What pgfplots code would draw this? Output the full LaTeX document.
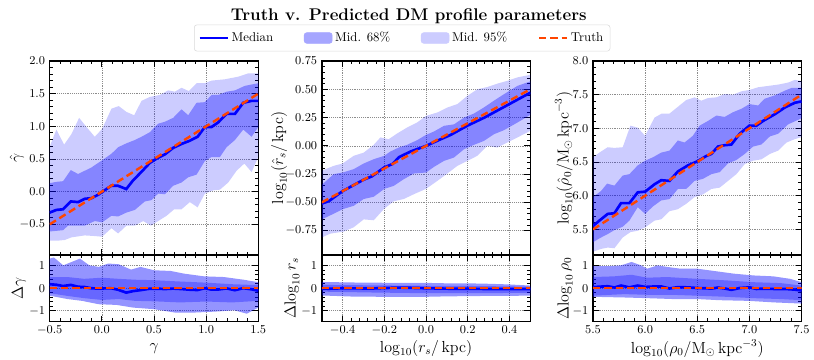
\documentclass[border=0pt]{standalone}
\usepackage{pgfplots}
\pgfplotsset{compat=1.18}
\definecolor{truthc}{HTML}{FF4500}
\definecolor{medc}{HTML}{0000FF}

\pgfplotsset{
  panel/.style={
    scale only axis, width=156.4pt,
    axis line style={line width=1.1pt},
    tick pos=both, xticklabel pos=lower, yticklabel pos=left,
    tick align=inside,
    major tick length=4.5pt, minor tick length=2.3pt,
    every tick/.style={black, line width=0.6pt},
    minor x tick num=4, minor y tick num=4,
    grid=major, major grid style={densely dotted, black!45, line width=0.5pt},
    tick label style={font=\fontsize{9.5}{11}\selectfont},
    label style={font=\fontsize{12}{14}\selectfont},
    clip=true,
  },
  mainp/.style={panel, height=145.5pt, xticklabels={}},
  resp/.style={panel, height=49.9pt, ymin=-1.48, ymax=1.48, ytick={-1,0,1},
    xlabel style={at={(rel axis cs:0.5,-0.4)}, anchor=center}},
  ylab/.style={ylabel style={at={(rel axis cs:#1,0.5)}, anchor=center}},
  onedig/.style={/pgf/number format/.cd, fixed, fixed zerofill, precision=1},
  twodig/.style={/pgf/number format/.cd, fixed, fixed zerofill, precision=2},
  b95/.style={fill=medc, fill opacity=0.2, draw=none, forget plot},
  b68/.style={fill=medc, fill opacity=0.35, draw=none, forget plot},
  r95/.style={fill=medc, fill opacity=0.42, draw=none, forget plot},
  r68/.style={fill=medc, fill opacity=0.3, draw=none, forget plot},
  medl/.style={medc, line width=2pt, forget plot},
  trul/.style={truthc, line width=1.8pt, dash pattern=on 5.5pt off 3pt, forget plot},
}

\begin{document}
\begin{tikzpicture}
\useasboundingbox (0,0) rectangle (610.5pt,-270pt);

\node[font=\fontsize{12.7}{15}\selectfont\bfseries] at (306.5pt,-12pt)
  {Truth v. Predicted DM profile parameters};

% ===== gamma ================================================================
\begin{axis}[mainp, at={(37.3pt,-45.75pt)}, anchor=north west,
  xmin=-0.5, xmax=1.5, ymin=-0.97, ymax=2.0,
  xtick={-0.5,0,0.5,1,1.5},
  ytick={-0.5,0,0.5,1,1.5,2},
  yticklabel style={onedig},
  ylabel={$\hat{\gamma}$}, ylab=-0.157,
  legend columns=4,
  legend style={at={(1.69,1.1186)}, anchor=center, draw=black!15,
    rounded corners=2pt, fill=white, font=\fontsize{9.6}{11.5}\selectfont,
    inner xsep=3pt, inner ysep=3pt,
    nodes={inner ysep=2.5pt},
    /tikz/every even column/.append style={column sep=21pt}},
]
\addlegendimage{legend image code/.code={\draw[medc, line width=2pt] (0pt,0pt) -- (21pt,0pt);}}
\addlegendentry{Median}
\addlegendimage{legend image code/.code={\fill[medc!35] (0pt,-4pt) rectangle (21pt,4pt);}}
\addlegendentry{Mid. 68\%}
\addlegendimage{legend image code/.code={\fill[medc!20] (0pt,-4pt) rectangle (21pt,4pt);}}
\addlegendentry{Mid. 95\%}
\addlegendimage{legend image code/.code={\draw[truthc, line width=1.8pt, dash pattern=on 5.5pt off 3pt] (0pt,0pt) -- (21pt,0pt);}}
\addlegendentry{Truth}

\addplot[b95] coordinates {
  (-0.5,0.69) (-0.436,0.95) (-0.362,0.72) (-0.292,0.88) (-0.218,1.13) (-0.148,0.99)
  (-0.068,0.84) (0.002,0.96) (0.092,1.27) (0.162,1.31) (0.236,1.22) (0.31,1.17)
  (0.38,1.39) (0.46,1.45) (0.556,1.48) (0.636,1.55) (0.70,1.53) (0.764,1.59)
  (0.834,1.54) (0.908,1.66) (0.988,1.66) (1.052,1.70) (1.18,1.72) (1.308,1.76)
  (1.404,1.81) (1.5,1.81)
  (1.5,0.53) (1.436,0.30) (1.366,0.43) (1.292,0.32) (1.212,0.14) (1.132,0.03)
  (1.068,0.02) (0.988,-0.03) (0.918,-0.24) (0.844,-0.16) (0.764,-0.27) (0.694,-0.27)
  (0.62,-0.37) (0.54,-0.45) (0.47,-0.52) (0.396,-0.45) (0.316,-0.52) (0.236,-0.52)
  (0.156,-0.64) (0.092,-0.56) (0.002,-0.69) (-0.068,-0.68) (-0.164,-0.67) (-0.292,-0.70)
  (-0.356,-0.74) (-0.42,-0.75) (-0.5,-0.75)
} -- cycle;
\addplot[b68] coordinates {
  (-0.5,0.13) (-0.436,0.15) (-0.372,0.16) (-0.298,0.33) (-0.228,0.27) (-0.164,0.32)
  (-0.1,0.37) (0.002,0.48) (0.092,0.58) (0.156,0.68) (0.236,0.74) (0.316,0.79)
  (0.38,0.84) (0.46,0.91) (0.54,1.04) (0.604,1.07) (0.684,1.13) (0.764,1.26)
  (0.828,1.17) (0.908,1.36) (0.988,1.37) (1.052,1.48) (1.116,1.48) (1.196,1.53)
  (1.276,1.55) (1.372,1.62) (1.5,1.66)
  (1.5,0.99) (1.436,0.84) (1.356,0.95) (1.276,0.79) (1.196,0.68) (1.132,0.53)
  (1.052,0.53) (0.988,0.47) (0.908,0.26) (0.828,0.22) (0.764,0.14) (0.684,0.09)
  (0.604,-0.04) (0.54,-0.03) (0.476,-0.13) (0.412,-0.15) (0.316,-0.28) (0.236,-0.32)
  (0.156,-0.38) (0.092,-0.37) (0.002,-0.47) (-0.068,-0.45) (-0.164,-0.52) (-0.228,-0.52)
  (-0.324,-0.52) (-0.372,-0.59) (-0.5,-0.61)
} -- cycle;
\addplot[medl] coordinates {
  (-0.5,-0.32) (-0.436,-0.28) (-0.372,-0.27) (-0.298,-0.15) (-0.228,-0.16) (-0.164,-0.11)
  (-0.1,-0.10) (-0.038,-0.05) (0.026,0.02) (0.09,0.09) (0.154,0.09) (0.234,0.04)
  (0.298,0.17) (0.378,0.30) (0.46,0.44) (0.54,0.52) (0.604,0.57) (0.684,0.67)
  (0.764,0.73) (0.844,0.78) (0.918,0.84) (0.988,0.99) (1.052,0.99) (1.116,1.06)
  (1.196,1.19) (1.276,1.19) (1.356,1.36) (1.436,1.39) (1.5,1.39)
};
\addplot[trul] coordinates {(-0.5,-0.5) (1.5,1.5)};
\end{axis}

\begin{axis}[resp, at={(37.3pt,-191.25pt)}, anchor=north west,
  xmin=-0.5, xmax=1.5,
  xtick={-0.5,0,0.5,1,1.5},
  xticklabel style={onedig},
  xlabel={$\gamma$}, ylabel={$\Delta\gamma$}, ylab=-0.147,
]
\addplot[r95] coordinates {
  (-0.5,1.32) (-0.46,1.37) (-0.37,1.02) (-0.21,1.32) (-0.12,1.02) (-0.03,0.95)
  (0.06,1.10) (0.16,1.07) (0.28,0.83) (0.37,0.95) (0.5,0.80) (0.66,0.77)
  (0.79,0.65) (0.98,0.53) (1.17,0.50) (1.36,0.38) (1.5,0.27)
  (1.5,-0.86) (1.39,-1.13) (1.27,-0.98) (1.08,-1.04) (0.89,-1.08) (0.7,-1.08)
  (0.5,-0.93) (0.3,-0.86) (0.14,-0.74) (-0.03,-0.71) (-0.19,-0.56) (-0.33,-0.48)
  (-0.5,-0.33)
} -- cycle;
\addplot[r68] coordinates {
  (-0.5,0.50) (-0.33,0.50) (-0.17,0.42) (0.0,0.47) (0.16,0.42) (0.32,0.38)
  (0.5,0.36) (0.75,0.30) (1.0,0.25) (1.25,0.18) (1.5,0.14)
  (1.5,-0.56) (1.25,-0.63) (1.0,-0.59) (0.75,-0.63) (0.5,-0.58) (0.32,-0.56)
  (0.16,-0.48) (0.0,-0.52) (-0.17,-0.44) (-0.33,-0.34) (-0.5,-0.22)
} -- cycle;
\addplot[medl] coordinates {
  (-0.5,0.18) (-0.436,0.156) (-0.372,0.10) (-0.298,0.148) (-0.228,0.068) (-0.164,0.054)
  (-0.1,0.0) (-0.038,-0.012) (0.026,-0.006) (0.09,0.0) (0.154,-0.064) (0.234,-0.194)
  (0.298,-0.128) (0.378,-0.078) (0.46,-0.02) (0.54,-0.02) (0.604,-0.034) (0.684,-0.014)
  (0.764,-0.034) (0.844,-0.064) (0.918,-0.078) (0.988,0.002) (1.052,-0.062) (1.116,-0.056)
  (1.196,-0.006) (1.276,-0.086) (1.356,0.004) (1.436,-0.046) (1.5,-0.11)
};
\addplot[trul] coordinates {(-0.5,0) (1.5,0)};
\end{axis}

% ===== r_s ==================================================================
\begin{axis}[mainp, at={(241.35pt,-45.75pt)}, anchor=north west,
  xmin=-0.5, xmax=0.5, ymin=-0.965, ymax=0.75,
  xtick={-0.4,-0.2,0,0.2,0.4},
  ytick={-0.75,-0.5,-0.25,0,0.25,0.5,0.75},
  yticklabel style={twodig},
  ylabel={$\log_{10}(\hat{r}_s/\,\mathrm{kpc})$}, ylab=-0.205,
]
\addplot[b95] coordinates {
  (-0.5,-0.22) (-0.443,-0.177) (-0.4,-0.156) (-0.347,-0.088) (-0.299,-0.06) (-0.251,0.009)
  (-0.219,0.074) (-0.179,0.059) (-0.139,0.109) (-0.091,0.162) (-0.043,0.206) (0,0.265)
  (0.054,0.295) (0.102,0.339) (0.15,0.369) (0.198,0.442) (0.246,0.50) (0.294,0.52)
  (0.342,0.55) (0.39,0.575) (0.438,0.605) (0.5,0.628)
  (0.5,0.133) (0.438,0.074) (0.39,0.03) (0.342,-0.015) (0.294,0.0) (0.246,-0.088)
  (0.198,-0.133) (0.15,-0.177) (0.102,-0.245) (0.054,-0.31) (0,-0.38) (-0.059,-0.428)
  (-0.107,-0.47) (-0.155,-0.49) (-0.203,-0.56) (-0.251,-0.658) (-0.299,-0.65) (-0.347,-0.72)
  (-0.395,-0.758) (-0.459,-0.776) (-0.5,-0.81)
} -- cycle;
\addplot[b68] coordinates {
  (-0.5,-0.345) (-0.443,-0.25) (-0.4,-0.236) (-0.347,-0.206) (-0.299,-0.156) (-0.251,-0.118)
  (-0.2,-0.088) (-0.171,-0.05) (-0.131,-0.015) (-0.091,0.009) (-0.043,0.05) (0,0.097)
  (0.038,0.127) (0.086,0.177) (0.134,0.19) (0.182,0.25) (0.23,0.286) (0.278,0.34)
  (0.326,0.40) (0.374,0.457) (0.438,0.53) (0.5,0.57)
  (0.5,0.274) (0.438,0.206) (0.374,0.139) (0.326,0.103) (0.278,0.044) (0.23,0.009)
  (0.182,-0.03) (0.134,-0.103) (0.086,-0.133) (0.038,-0.186) (0,-0.236) (-0.059,-0.245)
  (-0.107,-0.295) (-0.155,-0.354) (-0.2,-0.38) (-0.251,-0.45) (-0.299,-0.47) (-0.347,-0.53)
  (-0.4,-0.56) (-0.443,-0.60) (-0.5,-0.65)
} -- cycle;
\addplot[medl] coordinates {
  (-0.5,-0.51) (-0.467,-0.49) (-0.4,-0.40) (-0.34,-0.34) (-0.30,-0.30) (-0.26,-0.27)
  (-0.2,-0.19) (-0.16,-0.16) (-0.13,-0.10) (-0.074,-0.05) (0,0.0) (0.06,0.05)
  (0.118,0.097) (0.2,0.18) (0.28,0.25) (0.34,0.31) (0.4,0.37) (0.45,0.42) (0.5,0.47)
};
\addplot[trul] coordinates {(-0.5,-0.5) (0.5,0.5)};
\end{axis}

\begin{axis}[resp, at={(241.35pt,-191.25pt)}, anchor=north west,
  xmin=-0.5, xmax=0.5,
  xtick={-0.4,-0.2,0,0.2,0.4},
  xticklabel style={onedig},
  xlabel={$\log_{10}(r_s/\,\mathrm{kpc})$},
  ylabel={$\Delta\mathrm{log}_{10}\,r_s$}, ylab=-0.143,
]
\addplot[r95] coordinates {
  (-0.5,0.28) (-0.3,0.25) (-0.1,0.24) (0.0,0.24) (0.1,0.22) (0.2,0.22)
  (0.3,0.2) (0.4,0.17) (0.5,0.12)
  (0.5,-0.33) (0.3,-0.34) (0.1,-0.36) (0.0,-0.38) (-0.2,-0.38) (-0.35,-0.37)
  (-0.5,-0.32)
} -- cycle;
\addplot[r68] coordinates {
  (-0.5,0.15) (-0.25,0.13) (0,0.11) (0.25,0.1) (0.5,0.07)
  (0.5,-0.2) (0.25,-0.22) (0,-0.22) (-0.25,-0.19) (-0.5,-0.15)
} -- cycle;
\addplot[medl] coordinates {
  (-0.5,-0.01) (-0.467,-0.02) (-0.4,0.0) (-0.26,-0.01) (-0.2,0.01) (-0.13,0.03)
  (-0.074,0.02) (0,0.0) (0.118,-0.02) (0.2,-0.02) (0.28,-0.03) (0.4,-0.03) (0.5,-0.03)
};
\addplot[trul] coordinates {(-0.5,0) (0.5,0)};
\end{axis}

% ===== rho_0 ================================================================
\begin{axis}[mainp, at={(444.75pt,-45.75pt)}, anchor=north west,
  xmin=5.5, xmax=7.5, ymin=5.12, ymax=8.0,
  xtick={5.5,6,6.5,7,7.5},
  ytick={5.5,6,6.5,7,7.5,8},
  yticklabel style={onedig},
  ylabel={$\log_{10}(\hat{\rho}_0/\mathrm{M}_\odot\,\mathrm{kpc}^{-3})$}, ylab=-0.14,
]
\addplot[b95] coordinates {
  (5.5,6.57) (5.561,6.64) (5.641,6.72) (5.705,6.71) (5.785,6.72) (5.859,7.04)
  (5.929,7.01) (6.0,6.89) (6.09,7.16) (6.16,7.22) (6.234,7.22) (6.314,7.32)
  (6.394,7.42) (6.474,7.46) (6.538,7.41) (6.603,7.45) (6.683,7.46) (6.763,7.51)
  (6.843,7.50) (6.923,7.55) (7.0,7.57) (7.083,7.61) (7.18,7.63) (7.276,7.65)
  (7.372,7.68) (7.436,7.72) (7.5,7.70)
  (7.5,6.87) (7.436,6.84) (7.356,6.79) (7.276,6.67) (7.196,6.62) (7.115,6.54)
  (7.035,6.52) (6.955,6.47) (6.875,6.32) (6.795,6.22) (6.715,6.12) (6.635,6.10)
  (6.554,6.02) (6.474,5.98) (6.394,5.88) (6.314,5.80) (6.234,5.77) (6.154,5.65)
  (6.09,5.63) (6.0,5.53) (5.929,5.48) (5.859,5.46) (5.785,5.38) (5.705,5.22)
  (5.641,5.23) (5.577,5.21) (5.5,5.17)
} -- cycle;
\addplot[b68] coordinates {
  (5.5,5.98) (5.577,6.07) (5.635,6.18) (5.705,6.15) (5.785,6.30) (5.849,6.32)
  (5.929,6.45) (6.0,6.52) (6.074,6.57) (6.154,6.64) (6.234,6.67) (6.314,6.82)
  (6.378,6.79) (6.458,6.89) (6.522,7.04) (6.603,7.11) (6.683,7.19) (6.763,7.17)
  (6.843,7.24) (6.923,7.29) (7.0,7.36) (7.083,7.34) (7.147,7.44) (7.244,7.49)
  (7.34,7.56) (7.404,7.60) (7.5,7.60)
  (7.5,7.15) (7.372,7.06) (7.276,6.92) (7.196,6.88) (7.115,6.76) (7.035,6.73)
  (6.955,6.62) (6.875,6.53) (6.795,6.48) (6.715,6.35) (6.635,6.32) (6.554,6.25)
  (6.474,6.22) (6.394,6.10) (6.314,6.10) (6.234,5.95) (6.154,5.93) (6.074,5.84)
  (6.0,5.73) (5.929,5.83) (5.849,5.63) (5.785,5.54) (5.705,5.49) (5.641,5.43)
  (5.577,5.38) (5.5,5.31)
} -- cycle;
\addplot[medl] coordinates {
  (5.5,5.55) (5.561,5.63) (5.641,5.73) (5.705,5.74) (5.769,5.89) (5.849,5.89)
  (5.929,6.05) (6.0,6.06) (6.09,6.17) (6.154,6.23) (6.234,6.22) (6.314,6.36)
  (6.41,6.45) (6.5,6.51) (6.587,6.59) (6.635,6.62) (6.699,6.73) (6.763,6.75)
  (6.827,6.76) (6.907,6.92) (7.0,7.04) (7.067,7.04) (7.131,7.11) (7.244,7.21)
  (7.34,7.31) (7.436,7.38) (7.5,7.40)
};
\addplot[trul] coordinates {(5.5,5.5) (7.5,7.5)};
\end{axis}

\begin{axis}[resp, at={(444.75pt,-191.25pt)}, anchor=north west,
  xmin=5.5, xmax=7.5,
  xtick={5.5,6,6.5,7,7.5},
  xticklabel style={onedig},
  xlabel={$\log_{10}(\rho_0/\mathrm{M}_\odot\,\mathrm{kpc}^{-3})$},
  ylabel={$\Delta\mathrm{log}_{10}\,\rho_0$}, ylab=-0.134,
]
\addplot[r95] coordinates {
  (5.5,0.98) (5.64,0.98) (5.77,1.02) (5.87,1.17) (5.96,1.02) (6.02,0.87)
  (6.12,1.02) (6.21,0.95) (6.34,0.87) (6.5,0.87) (6.66,0.77) (6.85,0.65)
  (7.04,0.57) (7.23,0.53) (7.39,0.42) (7.5,0.27)
  (7.5,-0.68) (7.24,-0.63) (6.99,-0.56) (6.71,-0.53) (6.5,-0.48) (6.27,-0.48)
  (6.02,-0.44) (5.8,-0.41) (5.5,-0.38)
} -- cycle;
\addplot[r68] coordinates {
  (5.5,0.5) (5.7,0.53) (5.87,0.6) (6.02,0.47) (6.21,0.5) (6.5,0.42)
  (6.78,0.35) (7.04,0.27) (7.3,0.23) (7.5,0.12)
  (7.5,-0.53) (7.3,-0.48) (7.04,-0.44) (6.78,-0.38) (6.5,-0.33) (6.25,-0.29)
  (6.02,-0.29) (5.8,-0.26) (5.5,-0.33)
} -- cycle;
\addplot[medl] coordinates {
  (5.5,0.05) (5.561,0.07) (5.641,0.09) (5.705,0.035) (5.769,0.12) (5.849,0.04)
  (5.929,0.12) (6.0,0.06) (6.09,0.08) (6.154,0.08) (6.234,-0.01) (6.314,0.05)
  (6.41,0.04) (6.5,0.01) (6.587,0.0) (6.635,-0.015) (6.699,0.03) (6.763,-0.01)
  (6.827,-0.07) (6.907,0.01) (7.0,0.04) (7.067,-0.03) (7.131,-0.02) (7.244,-0.03)
  (7.34,-0.03) (7.436,-0.06) (7.5,-0.10)
};
\addplot[trul] coordinates {(5.5,0) (7.5,0)};
\end{axis}

\end{tikzpicture}
\end{document}
